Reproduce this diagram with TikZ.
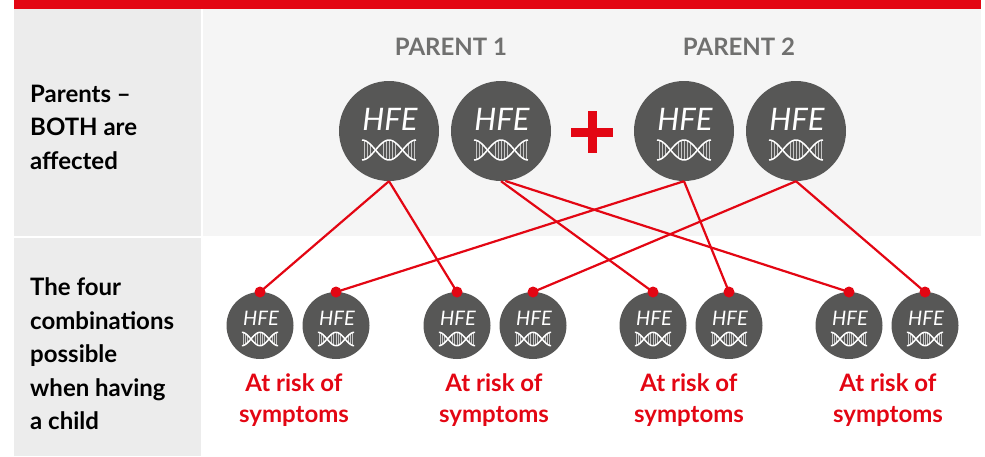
\documentclass[tikz,border=0pt]{standalone}
\usepackage{fontspec}
\setmainfont{Lato}
\usetikzlibrary{positioning}
\definecolor{hfered}{HTML}{E30613}
\definecolor{hfedark}{HTML}{575756}
\definecolor{panelleft}{HTML}{ECECEC}
\definecolor{panelright}{HTML}{F5F5F5}
\tikzset{
    bigcircle/.style={circle, fill=hfedark, minimum size=100pt, inner sep=0pt},
    smallcircle/.style={circle, fill=hfedark, minimum size=67pt, inner sep=0pt},
    bigname/.style={text=white, font=\fontsize{31}{31}\selectfont\itshape, inner sep=0pt},
    smallname/.style={text=white, font=\fontsize{20}{20}\selectfont\itshape, inner sep=0pt},
    rowtext/.style={anchor=west, align=left, inner sep=0pt, text=black, font=\fontsize{24}{33.5}\selectfont\bfseries},
    parenttext/.style={text=hfedark!85!white, inner sep=0pt, font=\fontsize{24}{24}\selectfont\bfseries},
    risktext/.style={align=center, inner sep=0pt, text=hfered, font=\fontsize{24}{31}\selectfont\bfseries},
    reddot/.style={circle, fill=hfered, minimum size=11pt, inner sep=0pt},
    redline/.style={draw=hfered, line width=2.2pt},
    dna/.pic={
        \foreach \rx in {-25,-22,-19,-6,-3,0,3,6,19,22,25} {
            \draw[gray!45!white, line width=1pt] ({\rx},{-10*cos(6.667*\rx)}) -- ({\rx},{10*cos(6.667*\rx)});
        }
        \draw[white, line width=1.5pt, domain=-27:27, samples=50, smooth] plot (\x,{10*cos(6.667*\x)});
        \draw[white, line width=1.5pt, domain=-27:27, samples=50, smooth] plot (\x,{-10*cos(6.667*\x)});
    }
}
\begin{document}
\begin{tikzpicture}[x=1pt,y=-1pt]
    \useasboundingbox (0,0) rectangle (985,456);

    % Panels
    \fill[panelleft] (14,9) rectangle (201,236);
    \fill[panelright] (203,9) rectangle (981,236);
    \fill[panelleft] (14,238) rectangle (201,456);
    \fill[hfered] (14,0) rectangle (981,9);

    % Row labels
    \node[rowtext] (row1) at (30,127) {Parents --\\BOTH are\\affected};
    \node[rowtext] (row2) at (30,354) {The four\\combinations\\possible\\when having\\a child};
    \node[parenttext] (parent1) at (451,47) {PARENT 1};
    \node[parenttext] (parent2) at (739,47) {PARENT 2};

    % Parents
    \node[bigcircle] (p1a) at (389,131) {};
    \node[bigcircle] (p1b) at (501,131) {};
    \node[bigcircle] (p2a) at (684,131) {};
    \node[bigcircle] (p2b) at (796,131) {};
    \node[bigname] (p1atext) at (390,119) {HFE};
    \node[bigname] (p1btext) at (502,119) {HFE};
    \node[bigname] (p2atext) at (685,119) {HFE};
    \node[bigname] (p2btext) at (797,119) {HFE};
    \pic at (389,150) {dna};
    \pic at (501,150) {dna};
    \pic at (684,150) {dna};
    \pic at (796,150) {dna};

    % Plus
    \fill[hfered] (571,127.5) rectangle (613,136.5);
    \fill[hfered] (588,111) rectangle (596.5,153);

    % Children
    \node[smallcircle] (c1) at (260,325.5) {};
    \node[smallcircle] (c2) at (336,325.5) {};
    \node[smallcircle] (c3) at (457,325.5) {};
    \node[smallcircle] (c4) at (533,325.5) {};
    \node[smallcircle] (c5) at (653,325.5) {};
    \node[smallcircle] (c6) at (729,325.5) {};
    \node[smallcircle] (c7) at (849,325.5) {};
    \node[smallcircle] (c8) at (925,325.5) {};
    \node[smallname] (c1text) at (261,318) {HFE};
    \node[smallname] (c2text) at (337,318) {HFE};
    \node[smallname] (c3text) at (458,318) {HFE};
    \node[smallname] (c4text) at (534,318) {HFE};
    \node[smallname] (c5text) at (654,318) {HFE};
    \node[smallname] (c6text) at (730,318) {HFE};
    \node[smallname] (c7text) at (850,318) {HFE};
    \node[smallname] (c8text) at (926,318) {HFE};
    \pic[scale=0.67] at (260,339) {dna};
    \pic[scale=0.67] at (336,339) {dna};
    \pic[scale=0.67] at (457,339) {dna};
    \pic[scale=0.67] at (533,339) {dna};
    \pic[scale=0.67] at (653,339) {dna};
    \pic[scale=0.67] at (729,339) {dna};
    \pic[scale=0.67] at (849,339) {dna};
    \pic[scale=0.67] at (925,339) {dna};

    % Dots
    \node[reddot] (d1) at (260,292) {};
    \node[reddot] (d2) at (336,292) {};
    \node[reddot] (d3) at (457,292) {};
    \node[reddot] (d4) at (533,292) {};
    \node[reddot] (d5) at (653,292) {};
    \node[reddot] (d6) at (729,292) {};
    \node[reddot] (d7) at (849,292) {};
    \node[reddot] (d8) at (925,292) {};

    % Draw edges
    \draw[redline] (p1a.south) -- (d1.center);
    \draw[redline] (p1a.south) -- (d3.center);
    \draw[redline] (p1b.south) -- (d5.center);
    \draw[redline] (p1b.-85) -- (d7.center);
    \draw[redline] (p2a.south) -- (d2.center);
    \draw[redline] (p2a.south) -- (d6.center);
    \draw[redline] (p2b.south) -- (d4.center);
    \draw[redline] (p2b.south) -- (d8.center);

    % Risk labels
    \node[risktext] (risk1) at (294,400) {At risk of\\symptoms};
    \node[risktext] (risk2) at (494,400) {At risk of\\symptoms};
    \node[risktext] (risk3) at (689,400) {At risk of\\symptoms};
    \node[risktext] (risk4) at (888,400) {At risk of\\symptoms};
\end{tikzpicture}
\end{document}
